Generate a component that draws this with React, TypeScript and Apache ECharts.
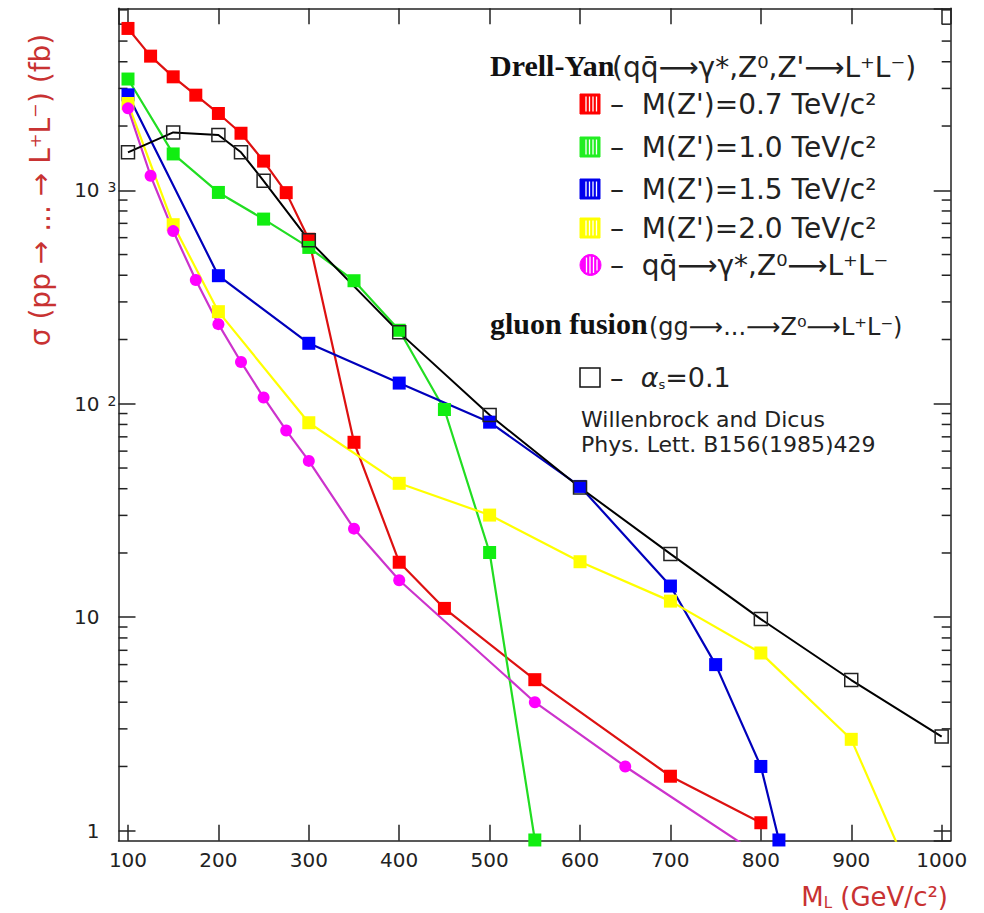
import React, { useEffect, useRef } from 'react';
import * as echarts from 'echarts';

const SANS = '"DejaVu Sans", sans-serif';
const SERIF = '"Liberation Serif", "Times New Roman", serif';

// ---- data ----
const redMass = [100, 125, 150, 175, 200, 225, 250, 275, 300, 350, 400, 450, 550, 700, 800];
const redSigma = [5730, 4250, 3400, 2790, 2290, 1850, 1370, 975, 590, 66, 18.1, 11.0, 5.1, 1.8, 1.09];

const greenMass = [100, 150, 200, 250, 300, 350, 400, 450, 500, 550];
const greenSigma = [3320, 1480, 977, 733, 540, 377, 221, 94, 20.1, 0.905];

const blueMass = [100, 200, 300, 400, 500, 600, 700, 750, 800, 820];
const blueSigma = [2800, 398, 192, 125, 82, 41, 14.0, 6.0, 2.0, 0.905];

const yellowMass = [100, 150, 200, 300, 400, 500, 600, 700, 800, 900, 950];
const yellowSigma = [2550, 690, 270, 81.5, 42.4, 30.1, 18.2, 11.9, 6.8, 2.68, 0.88];

const pinkMass = [100, 125, 150, 175, 200, 225, 250, 275, 300, 350, 400, 550, 650, 800];
const pinkSigma = [2420, 1170, 644, 380, 236, 157, 107, 75, 54, 26, 14.9, 4.0, 2.0, 0.76];

const gluonMass = [100, 150, 200, 225, 250, 300, 400, 500, 600, 700, 800, 900, 1000];
const gluonSigma = [1506, 1867, 1814, 1506, 1108, 584, 216, 88.5, 40.5, 19.8, 9.8, 5.08, 2.76];

const xTickValues = [100, 200, 300, 400, 500, 600, 700, 800, 900, 1000];
const yDecades = [1, 10, 100, 1000];
const yDecadeLabels = ['{b|1}{p| }', '{b|10}{p| }', '{b|10}{s|2}', '{b|10}{s|3}'];
const minorMantissas = [2, 3, 4, 5, 6, 7, 8, 9];

const legendLabels = [
  "–  M(Z')=0.7 TeV/c²",
  "–  M(Z')=1.0 TeV/c²",
  "–  M(Z')=1.5 TeV/c²",
  "–  M(Z')=2.0 TeV/c²",
  '–  qq̄⟶γ*,Z⁰⟶L⁺L⁻',
];
const legendColors = ['#ff0000', '#22ee22', '#0000ee', '#ffff00', '#ff00ff'];
const legendRowY = [104, 147, 189, 228, 265];

// ---- axis ranges ----
const X_MIN = 89.5;
const X_MAX = 1010;
const Y_MIN = 0.898;
const Y_MAX = 7120;

const FRAME = '#222';

function lineSeries(name: string, xs: number[], ys: number[], lineColor: string, symColor: string, symbol: string, size: number) {
  return {
    type: 'line',
    name,
    data: xs.map((x, i) => [x, ys[i]]),
    symbol,
    symbolSize: size,
    showSymbol: true,
    lineStyle: { color: lineColor, width: 2.2 },
    itemStyle: { color: symColor },
    clip: true,
    silent: true,
  };
}

function hatchBox(x: number, cy: number, color: string) {
  const y = cy - 10;
  const children: any[] = [
    { type: 'rect', shape: { x, y, width: 20, height: 20 }, style: { fill: color, stroke: color, lineWidth: 1 } },
  ];
  [6, 9.5, 13, 16.5].forEach((dx) => {
    children.push({
      type: 'line',
      shape: { x1: x + dx, y1: y + 2.5, x2: x + dx, y2: y + 17.5 },
      style: { stroke: '#fff', lineWidth: 1.3 },
    });
  });
  return { type: 'group', children };
}

function hatchCircle(cx: number, cy: number, color: string) {
  const children: any[] = [
    { type: 'circle', shape: { cx, cy, r: 10.5 }, style: { fill: color, stroke: color, lineWidth: 1 } },
  ];
  [-4, -0.5, 3, 6.5].forEach((dx) => {
    const h = Math.sqrt(Math.max(0, 8.5 * 8.5 - dx * dx));
    children.push({
      type: 'line',
      shape: { x1: cx + dx, y1: cy - h, x2: cx + dx, y2: cy + h },
      style: { stroke: '#fff', lineWidth: 1.3 },
    });
  });
  return { type: 'group', children };
}

export default function App() {
  const ref = useRef<HTMLDivElement>(null);

  useEffect(() => {
    if (!ref.current) return;
    const chart = echarts.init(ref.current, undefined, { renderer: 'svg' });

    const minorTicks: number[][] = [];
    yDecades.forEach((d) => {
      minorMantissas.forEach((m) => {
        const v = d * m;
        if (v > Y_MIN && v < Y_MAX) minorTicks.push([X_MIN, v]);
      });
    });

    const legendGraphics: any[] = [];
    legendLabels.forEach((label, i) => {
      const cy = legendRowY[i];
      legendGraphics.push(i === 4 ? hatchCircle(590.5, cy, legendColors[i]) : hatchBox(580, cy, legendColors[i]));
      legendGraphics.push({
        type: 'text',
        x: 610,
        y: cy,
        style: { text: label, fontSize: 28, fontFamily: SANS, fill: '#222', align: 'left', verticalAlign: 'middle' },
      });
    });

    const option: any = {
      animation: false,
      backgroundColor: '#ffffff',
      grid: { left: 118.5, right: 33.3, top: 8.3, bottom: 72.3, containLabel: false },
      xAxis: [
        {
          type: 'value',
          position: 'bottom',
          min: X_MIN,
          max: X_MAX,
          splitNumber: 10,
          axisLine: { show: true, onZero: false, lineStyle: { color: FRAME, width: 1.5 } },
          axisTick: { show: true, inside: true, length: 16, lineStyle: { color: FRAME, width: 1.5 } },
          axisLabel: {
            show: true,
            margin: 9,
            color: '#222',
            fontSize: 20,
            fontFamily: SANS,
            showMinLabel: false,
            showMaxLabel: false,
            formatter: (v: number) => (xTickValues.indexOf(Math.round(v)) >= 0 && Math.abs(v - Math.round(v)) < 1e-6 ? String(Math.round(v)) : ''),
          },
          splitLine: { show: false },
        },
        {
          type: 'value',
          position: 'top',
          min: X_MIN,
          max: X_MAX,
          splitNumber: 10,
          axisLine: { show: true, onZero: false, lineStyle: { color: FRAME, width: 1.5 } },
          axisTick: { show: true, inside: true, length: 16, lineStyle: { color: FRAME, width: 1.5 } },
          axisLabel: { show: false },
          splitLine: { show: false },
        },
      ],
      yAxis: [
        {
          type: 'log',
          logBase: 10,
          position: 'left',
          min: Y_MIN,
          max: Y_MAX,
          axisLine: { show: true, onZero: false, lineStyle: { color: FRAME, width: 1.5 } },
          axisTick: { show: true, inside: true, length: 17, lineStyle: { color: FRAME, width: 1.5 } },
          axisLabel: {
            show: true,
            margin: 2,
            showMinLabel: false,
            showMaxLabel: false,
            formatter: (v: number) => {
              const i = yDecades.findIndex((d) => Math.abs(v - d) / d < 1e-6);
              return i >= 0 ? yDecadeLabels[i] : '';
            },
            rich: {
              b: { fontSize: 20, fontFamily: SANS, color: '#222' },
              s: { fontSize: 14, fontFamily: SANS, color: '#222', verticalAlign: 'top', padding: [0, 0, 0, 8] },
              p: { fontSize: 14, fontFamily: SANS, color: '#222', width: 17 },
            },
          },
          splitLine: { show: false },
          minorTick: { show: false },
        },
        {
          type: 'log',
          logBase: 10,
          position: 'right',
          min: Y_MIN,
          max: Y_MAX,
          axisLine: { show: true, onZero: false, lineStyle: { color: FRAME, width: 1.5 } },
          axisTick: { show: true, inside: true, length: 17, lineStyle: { color: FRAME, width: 1.5 } },
          axisLabel: { show: false },
          splitLine: { show: false },
        },
      ],
      series: [
        {
          type: 'custom',
          name: 'minor ticks',
          xAxisIndex: 0,
          yAxisIndex: 0,
          silent: true,
          clip: false,
          data: minorTicks,
          renderItem: (_params: any, api: any) => {
            const v = api.value(1);
            const l = api.coord([X_MIN, v]);
            const r = api.coord([X_MAX, v]);
            return {
              type: 'group',
              children: [
                { type: 'line', shape: { x1: l[0], y1: l[1], x2: l[0] + 9, y2: l[1] }, style: { stroke: FRAME, lineWidth: 1.5 } },
                { type: 'line', shape: { x1: r[0], y1: r[1], x2: r[0] - 9, y2: r[1] }, style: { stroke: FRAME, lineWidth: 1.5 } },
              ],
            };
          },
        },
        lineSeries("M(Z')=0.7 TeV/c²", redMass, redSigma, '#dd1111', '#ff0000', 'rect', 13),
        lineSeries("M(Z')=1.0 TeV/c²", greenMass, greenSigma, '#22dd22', '#11ee11', 'rect', 13),
        lineSeries("M(Z')=1.5 TeV/c²", blueMass, blueSigma, '#0000bb', '#0000ff', 'rect', 13),
        lineSeries("M(Z')=2.0 TeV/c²", yellowMass, yellowSigma, '#ffff00', '#ffff00', 'rect', 13),
        lineSeries('qq̄→γ*,Z⁰→L⁺L⁻', pinkMass, pinkSigma, '#cc33cc', '#ff00ff', 'circle', 12),
        {
          type: 'line',
          name: 'gluon fusion αs=0.1',
          data: gluonMass.map((x, i) => [x, gluonSigma[i]]),
          symbol: 'rect',
          symbolSize: 13,
          showSymbol: true,
          lineStyle: { color: '#000', width: 2 },
          itemStyle: { color: 'rgba(255,255,255,0)', borderColor: '#222', borderWidth: 1.5 },
          clip: true,
          silent: true,
        },
      ],
      graphic: [
        {
          type: 'text',
          x: 40,
          y: 190,
          rotation: Math.PI / 2,
          style: {
            text: 'σ (pp → ... → L⁺L⁻) (fb)',
            fontSize: 28,
            fontFamily: SANS,
            fill: '#c83232',
            align: 'center',
            verticalAlign: 'middle',
          },
        },
        {
          type: 'text',
          x: 948,
          y: 897,
          style: {
            text: '{m|M}{u|L}{m| (GeV/c²)}',
            align: 'right',
            verticalAlign: 'middle',
            rich: {
              m: { fontSize: 26, fontFamily: SANS, fill: '#c83232' },
              u: { fontSize: 15, fontFamily: SANS, fill: '#c83232', verticalAlign: 'bottom' },
            },
          },
        },
        {
          type: 'text',
          x: 490,
          y: 65,
          style: { text: 'Drell-Yan', fontSize: 30, fontWeight: 'bold', fontFamily: SERIF, fill: '#111', align: 'left', verticalAlign: 'middle' },
        },
        {
          type: 'text',
          x: 612,
          y: 67,
          style: { text: "(qq̄⟶γ*,Z⁰,Z'⟶L⁺L⁻)", fontSize: 28, fontFamily: SANS, fill: '#222', align: 'left', verticalAlign: 'middle' },
        },
        ...legendGraphics,
        {
          type: 'text',
          x: 490,
          y: 323,
          style: { text: 'gluon fusion', fontSize: 30, fontWeight: 'bold', fontFamily: SERIF, fill: '#111', align: 'left', verticalAlign: 'middle' },
        },
        {
          type: 'text',
          x: 649,
          y: 327,
          style: { text: '(gg⟶...⟶Z⁰⟶L⁺L⁻)', fontSize: 24, fontFamily: SANS, fill: '#222', align: 'left', verticalAlign: 'middle' },
        },
        {
          type: 'rect',
          shape: { x: 580, y: 368, width: 20, height: 19 },
          style: { fill: 'none', stroke: '#111', lineWidth: 1.5 },
        },
        {
          type: 'text',
          x: 610,
          y: 377,
          style: {
            text: '{t|–  }{a|α}{u|s}{t|=0.1}',
            align: 'left',
            verticalAlign: 'middle',
            rich: {
              t: { fontSize: 27, fontFamily: SANS, fill: '#222' },
              a: { fontSize: 27, fontFamily: SANS, fontStyle: 'italic', fill: '#222' },
              u: { fontSize: 13, fontFamily: SANS, fill: '#222', verticalAlign: 'bottom' },
            },
          },
        },
        {
          type: 'text',
          x: 581,
          y: 419,
          style: { text: 'Willenbrock and Dicus', fontSize: 22, fontFamily: SANS, fill: '#222', align: 'left', verticalAlign: 'middle' },
        },
        {
          type: 'text',
          x: 581,
          y: 444,
          style: { text: 'Phys. Lett. B156(1985)429', fontSize: 22, fontFamily: SANS, fill: '#222', align: 'left', verticalAlign: 'middle' },
        },
      ],
    };

    chart.setOption(option);
    return () => {
      chart.dispose();
    };
  }, []);

  return (
    <div
      ref={ref}
      style={{ position: 'fixed', left: 0, top: 0, width: 984, height: 913, background: '#fff' }}
    />
  );
}
